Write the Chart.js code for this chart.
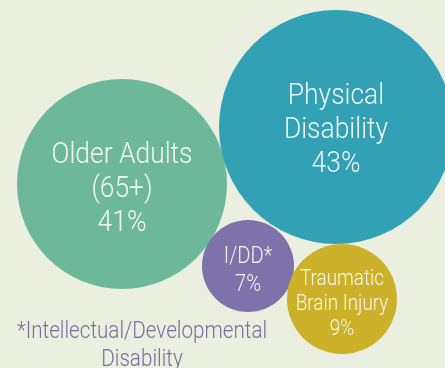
<!DOCTYPE html>
<html>
<head>
<meta charset="utf-8">
<script src="https://cdn.jsdelivr.net/npm/chart.js@4.4.1/dist/chart.umd.min.js"></script>
<style>
  html, body { margin: 0; padding: 0; background: #eaefe0; overflow: hidden; }
  #wrap { position: relative; width: 445px; height: 368px; }
</style>
</head>
<body>
<div id="wrap"><canvas id="bubbleChart" width="445" height="368"></canvas></div>
<script>
// Catégories et valeurs
const categories = ['Older Adults\n(65+)', 'Physical\nDisability', 'I/DD*', 'Traumatic\nBrain Injury'];
const percents = [41, 43, 7, 9];
// Position des bulles (unités du graphique) et rayon
const bubbleX = [122, 336, 248, 342];
const bubbleY = [184, 127, 266, 299];
const bubbleR = [105, 117, 46, 55];
const colors = ['#6db89a', '#33a1b5', '#7f72aa', '#cbb22a'];
const footnote = ['*Intellectual/Developmental', 'Disability'];

// Texte des étiquettes dans chaque bulle
const labelFont = [30, 30, 24, 22];
const labelLine = [34, 34, 28, 25];
const labelShift = [5, 3, 5, 5];
const labelScale = [0.88, 0.88, 0.84, 0.86];

const bubbleLabels = {
    id: 'bubbleLabels',
    afterDatasetsDraw(chart) {
        const ctx = chart.ctx;
        const meta = chart.getDatasetMeta(0);
        meta.data.forEach((el, i) => {
            const lines = categories[i].split('\n').concat([percents[i] + '%']);
            ctx.save();
            ctx.fillStyle = 'rgba(250,250,245,0.95)';
            ctx.font = '300 ' + labelFont[i] + 'px Roboto';
            ctx.textAlign = 'center';
            ctx.textBaseline = 'middle';
            const h = labelLine[i];
            const top = el.y + labelShift[i] - (lines.length - 1) * h / 2;
            ctx.translate(el.x, 0);
            ctx.scale(labelScale[i], 1);
            lines.forEach((t, k) => ctx.fillText(t, 0, top + k * h));
            ctx.restore();
        });
        // Note de bas de page
        ctx.save();
        ctx.fillStyle = '#7b6c9f';
        ctx.font = '300 24px Roboto';
        ctx.textAlign = 'center';
        ctx.textBaseline = 'alphabetic';
        ctx.translate(142, 0);
        ctx.scale(0.86, 1);
        ctx.fillText(footnote[0], 0, 338);
        ctx.fillText(footnote[1], 0, 366);
        ctx.restore();
    }
};

new Chart(document.getElementById('bubbleChart'), {
    type: 'bubble',
    data: {
        labels: categories,
        datasets: [{
            data: bubbleX.map((x, i) => ({ x: x, y: bubbleY[i], r: bubbleR[i] })),
            backgroundColor: colors,
            borderWidth: 0,
            hoverRadius: 0
        }]
    },
    options: {
        responsive: false,
        animation: false,
        events: [],
        layout: { padding: 0, autoPadding: false },
        clip: false,
        scales: {
            x: { display: false, min: 0, max: 445 },
            y: { display: false, min: 0, max: 368, reverse: true }
        },
        plugins: {
            legend: { display: false },
            tooltip: { enabled: false }
        }
    },
    plugins: [bubbleLabels]
});
</script>
</body>
</html>
